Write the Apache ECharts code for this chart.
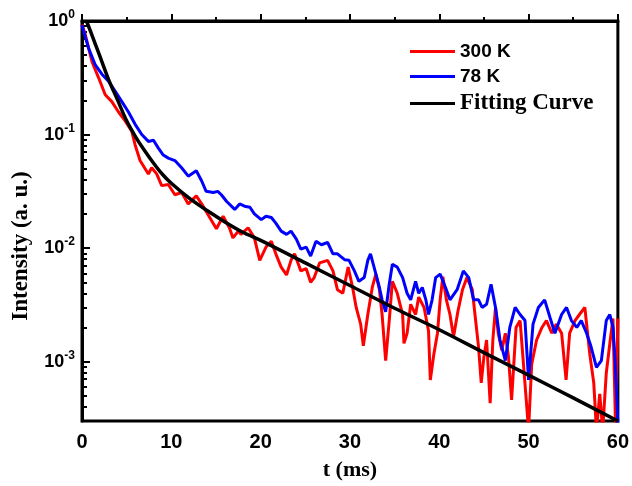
<!DOCTYPE html>
<html>
<head>
<meta charset="utf-8">
<script src="https://cdn.jsdelivr.net/npm/echarts@6/dist/echarts.min.js"></script>
<style>html,body{margin:0;padding:0;background:#fff}#c{width:632px;height:486px}</style>
</head>
<body>
<div id="c"></div>
<script>
// ---- data ----
var t300 = [0,0.37,1.11,1.86,2.6,3.34,4.09,4.83,5.57,5.95,6.5,7.43,7.8,8.36,8.92,9.66,10.4,11.15,11.9,12.8,13.56,14.3,15.05,15.8,16.5,16.9,17.5,17.8,18.6,19.3,19.9,20.6,21.2,21.7,22.3,22.9,23.4,23.8,24.5,25.1,25.6,26.0,26.6,27.5,28.1,28.6,29.2,29.8,30.3,30.7,31.2,31.5,32.0,32.5,32.9,33.3,33.6,34.0,34.4,34.75,35.3,35.9,36.05,36.4,36.8,37.35,37.7,38.3,38.8,39.0,39.4,39.8,40.1,40.4,40.8,41.2,41.6,42.1,42.6,43.1,43.7,44.0,44.4,44.7,45.0,45.3,45.7,46.0,46.3,46.6,47.0,47.4,47.75,48.1,48.6,49.05,49.4,50.0,50.35,50.9,51.5,52.0,52.6,53.1,53.7,54.2,54.6,55.2,55.7,56.3,56.85,57.3,57.6,57.97,58.3,58.7,59.1,59.45,59.75,60];
var i300 = [0.93,0.76,0.44,0.316,0.224,0.195,0.158,0.132,0.107,0.081,0.059,0.045,0.051,0.045,0.0355,0.0363,0.0295,0.0309,0.0245,0.0288,0.0234,0.0186,0.0148,0.0191,0.0151,0.0123,0.0141,0.0132,0.0151,0.0123,0.0078,0.0102,0.0115,0.0089,0.0068,0.0058,0.0078,0.0089,0.0063,0.0066,0.0050,0.0055,0.0074,0.0078,0.0063,0.0043,0.0040,0.0068,0.0045,0.0030,0.00214,0.00138,0.0026,0.0045,0.0059,0.0043,0.0026,0.00102,0.0023,0.0051,0.0040,0.0026,0.00145,0.00178,0.0032,0.0026,0.0037,0.0030,0.00186,0.00069,0.00117,0.00178,0.0035,0.0056,0.0035,0.0026,0.00166,0.0028,0.0043,0.0055,0.0043,0.0026,0.00135,0.00065,0.0011,0.00155,0.00043,0.00155,0.0030,0.00178,0.00126,0.00178,0.0011,0.00046,0.0020,0.0023,0.00102,0.00025,0.00095,0.00155,0.0020,0.0023,0.00178,0.00214,0.00178,0.00069,0.00178,0.0023,0.0026,0.0030,0.00117,0.00065,0.00025,0.00052,0.00025,0.00079,0.00145,0.0024,0.00025,0.0024];

var t78 = [0,0.19,0.74,1.49,2.23,2.97,3.72,4.46,5.2,5.95,6.69,7.43,8.0,8.55,9.1,9.66,10.4,11.15,11.9,12.8,13.4,13.9,14.7,15.2,15.6,16.2,17.1,17.65,18.2,18.8,19.3,20.07,20.6,21.2,21.7,22.3,22.9,23.4,24.0,24.5,25.1,25.6,26.2,26.8,27.5,28.1,28.6,29.4,29.9,30.5,31.0,31.6,32.0,32.3,32.7,33.3,33.6,34.0,34.4,34.75,35.3,35.9,36.4,36.8,37.35,37.7,38.1,38.5,38.8,39.2,39.6,40.1,40.7,41.2,42.0,42.7,43.3,43.85,44.4,44.8,45.3,45.8,46.3,46.8,47.4,47.9,48.5,49.05,49.6,50.0,50.5,51.1,51.8,52.4,52.95,53.7,54.25,54.8,55.4,55.9,56.5,57.0,57.6,58.15,58.7,59.1,59.45,59.7,60];
var i78 = [0.92,0.81,0.575,0.41,0.34,0.295,0.24,0.195,0.158,0.123,0.100,0.087,0.089,0.076,0.066,0.062,0.059,0.051,0.043,0.048,0.039,0.0316,0.0309,0.0316,0.0295,0.0257,0.0219,0.0245,0.0234,0.0229,0.0200,0.0178,0.0191,0.0186,0.0166,0.0141,0.0132,0.0141,0.0120,0.0098,0.0102,0.0085,0.0115,0.0107,0.0112,0.0089,0.0089,0.0079,0.0078,0.0063,0.0051,0.0055,0.0078,0.0089,0.0068,0.0045,0.0035,0.00275,0.0048,0.0072,0.0068,0.0055,0.0040,0.0035,0.0051,0.0040,0.0045,0.0035,0.0026,0.0035,0.0055,0.0059,0.0045,0.0035,0.0043,0.0063,0.0055,0.0035,0.0035,0.0030,0.0032,0.0048,0.0030,0.00155,0.00102,0.0020,0.0030,0.0026,0.0023,0.00069,0.00214,0.0030,0.0035,0.00245,0.00178,0.0026,0.0030,0.0023,0.0020,0.0023,0.00178,0.00135,0.00089,0.00102,0.0023,0.0026,0.0020,0.0010,0.00028];

var tFit = [0.5,1,2,3,4,5,6,7,8,9,10,12,14,16,18,20,25,30,35,40,45,50,55,60];
var iFit = [1.0,0.794,0.490,0.302,0.200,0.132,0.0955,0.0724,0.0562,0.0447,0.0372,0.0275,0.0214,0.0170,0.0138,0.0117,0.00741,0.00468,0.00295,0.00191,0.00120,0.00076,0.00048,0.00030];

var seriesNames = ['300 K', '78 K', 'Fitting Curve'];
var xTicks = [0, 10, 20, 30, 40, 50, 60];
var yDecades = [1e-3, 1e-2, 1e-1, 1];
var yMin = 3e-4, yMax = 1;

// ---- build ----
function lg(v){ return Math.log10(v); }
function pairs(ts, vs){ return ts.map(function(t,i){ return [t, lg(vs[i])]; }); }
var majorVals = yDecades.map(lg);
var minorVals = [];
for (var e = -4; e < 0; e++) {
  for (var k = 2; k <= 9; k++) {
    var v = k * Math.pow(10, e);
    if (v > yMin && v < yMax) minorVals.push(lg(v));
  }
}
var chart = echarts.init(document.getElementById('c'), null, {renderer: 'canvas'});
var axisLineStyle = {color: '#000', width: 3};
chart.setOption({
  animation: false,
  backgroundColor: '#fff',
  grid: {left: 82, right: 12, top: 21, bottom: 63, show: true, borderColor: '#000', borderWidth: 3, containLabel: false},
  legend: {
    orient: 'vertical', left: 405, top: 37, itemWidth: 45, itemHeight: 3, itemGap: 6, icon: 'rect',
    data: [
      {name: seriesNames[0], textStyle: {fontFamily: 'Liberation Sans, Arial', fontWeight: 'bold', fontSize: 19, color: '#000'}},
      {name: seriesNames[1], textStyle: {fontFamily: 'Liberation Sans, Arial', fontWeight: 'bold', fontSize: 19, color: '#000'}},
      {name: seriesNames[2], textStyle: {fontFamily: 'Liberation Serif, Times New Roman', fontWeight: 'bold', fontSize: 23, color: '#000'}}
    ]
  },
  xAxis: {
    type: 'value', min: xTicks[0], max: xTicks[xTicks.length-1], interval: 10,
    name: 't (ms)', nameLocation: 'middle', nameGap: 38,
    nameTextStyle: {fontFamily: 'Liberation Serif, Times New Roman', fontWeight: 'bold', fontSize: 22, color: '#000'},
    axisLine: {lineStyle: axisLineStyle},
    axisTick: {inside: true, length: 7, lineStyle: {color: '#000', width: 2}},
    minorTick: {show: true, splitNumber: 2, length: 4, lineStyle: {color: '#000', width: 2}},
    splitLine: {show: false},
    axisLabel: {margin: 11, fontFamily: 'Liberation Sans, Arial', fontWeight: 'bold', fontSize: 20, color: '#000'}
  },
  yAxis: [{
    type: 'value', min: lg(yMin), max: lg(yMax),
    name: 'Intensity (a. u.)', nameLocation: 'middle', nameGap: 49,
    nameTextStyle: {fontFamily: 'Liberation Serif, Times New Roman', fontWeight: 'bold', fontSize: 23, color: '#000', padding: [0, 50, 0, 0]},
    axisLine: {lineStyle: axisLineStyle},
    axisTick: {inside: true, length: 8, customValues: majorVals, lineStyle: {color: '#000', width: 2}},
    splitLine: {show: false},
    axisLabel: {
      customValues: majorVals, margin: 7,
      formatter: function(v){ return '{b|10}{s|' + Math.round(v) + '}'; },
      rich: {
        b: {fontFamily: 'Liberation Sans, Arial', fontWeight: 'bold', fontSize: 18, lineHeight: 24, color: '#000'},
        s: {fontFamily: 'Liberation Sans, Arial', fontWeight: 'bold', fontSize: 12, lineHeight: 12, verticalAlign: 'top', color: '#000'}
      }
    }
  }, {
    type: 'value', min: lg(yMin), max: lg(yMax), position: 'left',
    axisLine: {show: false},
    axisTick: {show: true, inside: true, length: 5, customValues: minorVals, lineStyle: {color: '#000', width: 2}},
    axisLabel: {show: false},
    splitLine: {show: false}
  }],
  series: [
    {name: seriesNames[0], type: 'line', data: pairs(t300, i300), showSymbol: false, symbol: 'none', color: '#ff0000', lineStyle: {width: 3, color: '#ff0000'}, z: 2},
    {name: seriesNames[1], type: 'line', data: pairs(t78, i78), showSymbol: false, symbol: 'none', color: '#0000ff', lineStyle: {width: 3, color: '#0000ff'}, z: 3},
    {name: seriesNames[2], type: 'line', data: pairs(tFit, iFit), showSymbol: false, symbol: 'none', smooth: 0.3, color: '#000', lineStyle: {width: 3.5, color: '#000'}, z: 4}
  ]
});
</script>
</body>
</html>
